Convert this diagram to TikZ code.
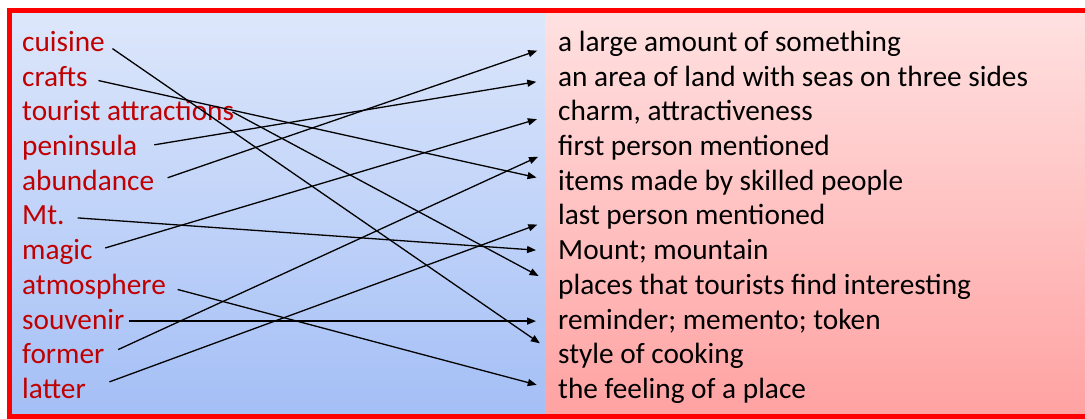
\documentclass[tikz,border=0pt]{standalone}
\usepackage{fontspec}
\setmainfont{Carlito}
\usetikzlibrary{arrows.meta}
\definecolor{wordred}{HTML}{C00000}
\definecolor{bluetop}{HTML}{DDE7FB}
\definecolor{bluebot}{HTML}{A4BFF6}
\definecolor{pinktop}{HTML}{FFE1E1}
\definecolor{pinkbot}{HTML}{FFA2A2}
\tikzset{
  word/.style={anchor=base west,inner sep=0pt,text height=20pt,text depth=4pt,text=wordred},
  meaning/.style={anchor=base west,inner sep=0pt,text height=20pt,text depth=4pt},
  link/.style={-{Triangle[length=9pt,width=7pt]},line width=1.3pt,shorten >=22pt}
}
\begin{document}
\begin{tikzpicture}[x=1pt,y=-1pt,font=\fontsize{29.3}{35}\selectfont]
\useasboundingbox (0,0) rectangle (1085,419);
\clip (0,0) rectangle (1085,419);
\shade[top color=bluetop,bottom color=bluebot] (12,13) rectangle (545,414);
\shade[top color=pinktop,bottom color=pinkbot] (545,13) rectangle (1092,414);
\draw[red,line width=5pt] (9.5,10.5) rectangle (1095,416.5);
% words
\node[word] (cuisine) at (22,51.5) {cuisine};
\node[word] (crafts) at (22,86.2) {crafts};
\node[word] (attractions) at (22,120.9) {tourist attractions};
\node[word] (peninsula) at (22,155.6) {peninsula};
\node[word] (abundance) at (22,190.3) {abundance};
\node[word] (mt) at (22,225.0) {Mt.};
\node[word] (magic) at (22,259.7) {magic};
\node[word] (atmosphere) at (22,294.4) {atmosphere};
\node[word] (souvenir) at (22,329.1) {souvenir};
\node[word] (former) at (22,363.8) {former};
\node[word] (latter) at (22,398.5) {latter};
% meanings
\node[meaning] (dAmount) at (558,51.5) {a large amount of something};
\node[meaning] (dArea) at (558,86.2) {an area of land with seas on three sides};
\node[meaning] (dCharm) at (558,120.9) {charm, attractiveness};
\node[meaning] (dFirst) at (558,155.6) {first person mentioned};
\node[meaning] (dItems) at (558,190.3) {items made by skilled people};
\node[meaning] (dLast) at (558,225.0) {last person mentioned};
\node[meaning] (dMount) at (558,259.7) {Mount; mountain};
\node[meaning] (dPlaces) at (558,294.4) {places that tourists find interesting};
\node[meaning] (dReminder) at (558,329.1) {reminder; memento; token};
\node[meaning] (dStyle) at (558,363.8) {style of cooking};
\node[meaning] (dFeeling) at (558,398.5) {the feeling of a place};
% matches
\foreach \w/\d/\g in {cuisine/dStyle/9, crafts/dItems/11, attractions/dPlaces/-2,
    peninsula/dArea/17, abundance/dAmount/14, mt/dMount/13, magic/dCharm/13,
    atmosphere/dFeeling/12, souvenir/dReminder/4, former/dFirst/15, latter/dLast/25}
  \draw[link,shorten <=\g pt] (\w.east) -- (\d.west);
\end{tikzpicture}
\end{document}
